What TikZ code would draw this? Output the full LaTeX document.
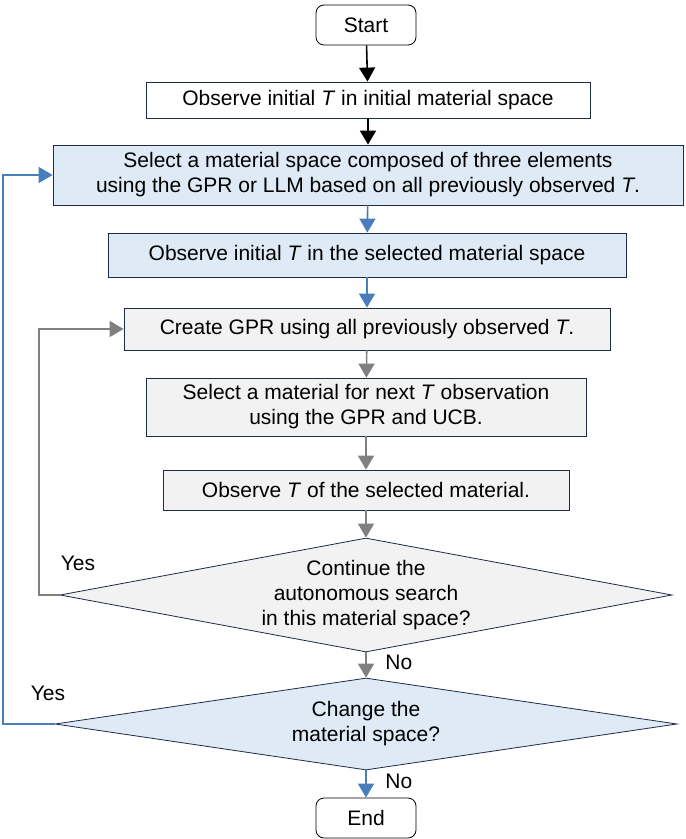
\documentclass[tikz,border=0pt]{standalone}
\usepackage{fontspec}
\setmainfont{Liberation Sans}
\usetikzlibrary{shapes.geometric,arrows.meta}
\definecolor{boxblue}{HTML}{DEEBF7}
\definecolor{boxgray}{HTML}{F2F2F2}
\definecolor{edge}{HTML}{1F2A44}
\definecolor{lineblue}{HTML}{4A7EBB}
\definecolor{linegray}{HTML}{808080}
\tikzset{
  step/.style={draw=edge, minimum height=#1*0.5pt, align=center, inner sep=0pt},
  term/.style={draw=black, rounded corners=4pt, minimum width=50pt, minimum height=20pt},
  test/.style={diamond, draw=edge, aspect=5.4, inner sep=0pt, align=center},
  go/.style={-{Triangle[length=7pt,width=8pt]}, thick},
}
\begin{document}
\begin{tikzpicture}[x=0.5pt,y=-0.5pt,font=\fontsize{10.5}{12.5}\selectfont]

    \useasboundingbox (0,0) rectangle (685,839);

    % Terminali
    \node[term] (start) at (366,25) {Start};
    \node[term] (end) at (366,818) {End};

    % Passi
    \node[step=36, minimum width=222pt] (obs) at (368,100) {Observe initial \textit{T} in initial material space};
    \node[step=60, minimum width=315pt, fill=boxblue] (sel) at (368,175) {Select a material space composed of three elements\\using the GPR or LLM based on all previously observed \textit{T}.};
    \node[step=44, minimum width=259pt, fill=boxblue] (obs2) at (367,255) {Observe initial \textit{T} in the selected material space};
    \node[step=42, minimum width=243pt, fill=boxgray] (gpr) at (367,329) {Create GPR using all previously observed \textit{T}.};
    \node[step=58, minimum width=220pt, fill=boxgray] (next) at (366,407) {Select a material for next \textit{T} observation\\using the GPR and UCB.};
    \node[step=40, minimum width=203pt, fill=boxgray] (obs3) at (366,490) {Observe \textit{T} of the selected material.};

    % Decisioni
    \node[test, fill=boxgray, minimum width=306pt, minimum height=57pt] (cont) at (366,595) {Continue the\\autonomous search\\in this material space?};
    \node[test, fill=boxblue, minimum width=311pt, minimum height=46pt] (chg) at (366,724) {Change the\\material space?};

    % Frecce
    \draw[go] (start) -- (obs);
    \draw[go] (obs) -- (sel);
    \draw[go, lineblue] (sel) -- (obs2);
    \draw[go, lineblue] (obs2) -- (gpr);
    \draw[go, linegray] (gpr) -- (next);
    \draw[go, linegray] (next) -- (obs3);
    \draw[go, linegray] (obs3) -- (cont);
    \draw[go, linegray] (cont) -- node[pos=0.4, right=6pt, text=black] {No} (chg);
    \draw[go, lineblue] (chg) -- node[pos=0.4, right=6pt, text=black] {No} (end);

    % Cicli
    \draw[go, linegray] (cont.west) -- (39,595) |- (gpr.west);
    \draw[go, lineblue] (chg.west) -- (3,724) |- (sel.west);
    \node at (78,563) {Yes};
    \node at (48,693) {Yes};

\end{tikzpicture}
\end{document}
